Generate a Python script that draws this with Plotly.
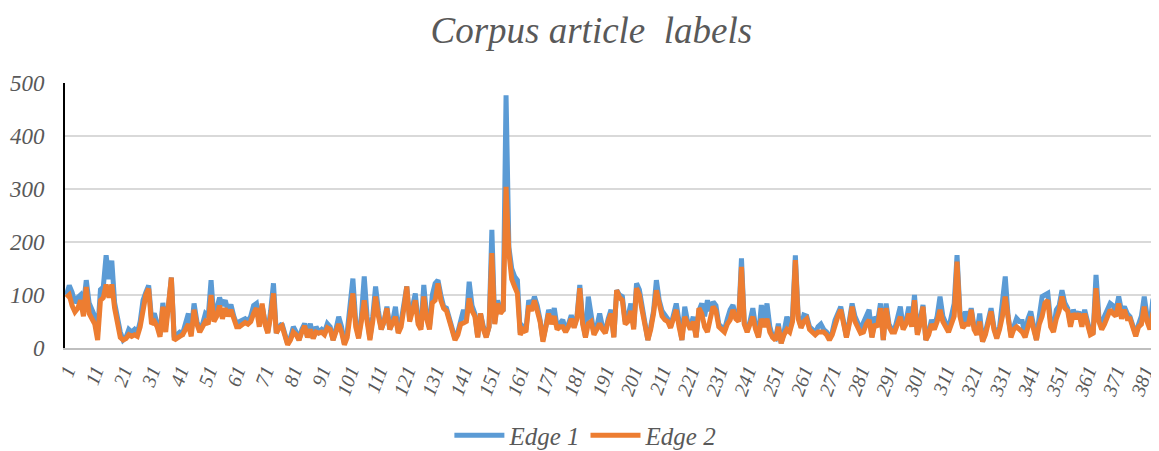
import plotly.graph_objects as go

# Edge 1 values (categories 1..385)
e1 = (
    [100,118,105,85,95,100,80,128,85,70, 60,30,110,115,175,130,165,85,50,30,
     15,20,35,30,35,28,50,90,105,118, 55,65,46,25]
    + [85,45,80,133,20,25,30,28,45,65, 30,84,50,35,45,65,60,128,55,75,
       95,80,90,70,82,60,45,50,53,55, 50,60,80]
    + [84,50,80,50,30,70,122,28,40,46, 25,8,20,40,30,15,35,46,20,46,
       18,40,30,35,30,46,40,15,35,59, 40,8,30,80]
    + [131,50,21,60,135,60,18,60,116,70, 35,50,78,35,50,78,30,50,80,116,
       53,80,103,50,40,119,60,40,100,122, 128,100,78]
    + [75,55,35,18,30,55,72,53,125,80, 65,21,65,40,21,40,223,47,90,70,
       72,477,190,150,135,128,28,40,34,90, 78,97,80,53]
    + [15,40,72,55,75,40,45,53,34,45, 62,40,60,119,50,21,97,60,28,40,
       65,40,30,55,72,21,109,100,97,50, 60,84,40]
    + [122,110,78,40,15,40,70,128,90,70, 62,55,40,60,84,50,15,78,50,40,
       59,21,70,84,60,90,70,87,80,45, 40,34,55,72]
    + [81,60,53,169,46,34,50,75,40,21, 81,50,84,40,21,18,46,9,30,59,
       40,60,175,60,40,62,60,40,35,28, 40,45,35]
    + [30,18,30,53,65,78,50,21,50,84, 60,46,35,48,60,72,21,59,50,84,
       15,84,45,35,35,60,78,40,50,78, 45,100,28]
    + [55,81,15,30,53,40,60,97,60,45, 35,60,84,175,70,40,69,50,75,40,
       30,65,12,30,55,75,40,20,40,80, 135,60,25,40]
    + [56,50,50,25,55,69,40,15,60,97, 100,103,50,35,72,80,109,85,75,46,
       72,60,68,46,72,50,28,30,138,60, 40,60,70,84]
    + [80,70,97,70,78,65,59,40,25,45,60,97,60,40,90,105]
)

# Edge 2 values (categories 1..385)
e2 = (
    [95,100,80,68,75,90,60,115,65,55, 45,15,90,95,120,95,120,75,40,20,
     15,18,25,22,25,22,40,75,100,112, 45,50,40,21]
    + [78,30,75,133,15,20,22,25,35,45, 22,72,45,30,40,50,45,100,50,60,
       80,55,75,60,72,55,40,40,45,48, 45,50,65]
    + [75,40,84,45,28,60,103,28,38,42, 22,6,15,30,25,15,30,42,20,35,
       18,30,28,30,25,38,35,15,30,45, 30,6,20,70]
    + [103,40,18,50,90,50,15,50,97,60, 35,50,75,35,45,59,28,40,75,116,
       50,70,90,45,35,97,55,35,85,90, 122,90,75]
    + [70,50,30,15,25,45,47,50,94,70, 60,20,65,35,20,40,179,45,84,65,
       72,304,180,130,116,103,25,35,30,80, 70,90,70,50]
    + [12,35,65,45,60,35,40,40,30,40, 55,38,55,113,45,20,46,50,25,35,
       46,35,28,50,65,20,109,95,90,45, 50,70,35]
    + [113,100,70,35,15,35,65,109,80,60, 53,50,38,55,72,40,15,59,45,35,
       50,20,75,65,40,30,55,78,70,40, 35,30,45,53]
    + [72,55,50,153,45,30,45,59,35,20, 55,40,55,30,20,15,40,9,25,35,
       30,50,166,55,38,50,55,35,30,25, 30,30,30]
    + [25,15,25,45,60,72,45,20,45,78, 50,40,28,30,45,53,20,45,40,75,
       15,75,40,30,30,45,59,35,45,65, 40,90,25]
    + [45,78,15,25,45,35,50,72,50,40, 30,45,60,163,60,38,45,45,72,35,
       25,50,12,25,45,69,35,18,35,60, 97,50,20,35]
    + [40,35,30,20,45,59,35,15,45,60, 85,90,40,30,55,70,97,75,70,40,
       65,55,65,40,65,45,25,28,113,50, 35,45,60,72]
    + [65,60,84,55,72,55,55,35,22,40,45,78,50,35,65,80]
)

categories = list(range(1, len(e1) + 1))
tick_labels = [str(c) for c in categories[::10]]
series_names = ["Edge 1", "Edge 2"]
title_text = "Corpus article  labels"

FONT = "Liberation Serif, Times New Roman, serif"
GRAY = "#595959"

fig = go.Figure()
fig.add_trace(go.Scatter(x=categories, y=e1, mode="lines", name=series_names[0],
                         line=dict(color="#5B9BD5", width=5)))
fig.add_trace(go.Scatter(x=categories, y=e2, mode="lines", name=series_names[1],
                         line=dict(color="#ED7D31", width=5)))

# the page body adds an 8px margin, so the figure is sized to fit inside it
fig.update_layout(
    width=1151, height=443,
    paper_bgcolor="white", plot_bgcolor="white",
    margin=dict(l=57, r=2, t=75, b=103, autoexpand=False),
    title=dict(text=title_text, xref="paper", x=0.482, xanchor="center",
               yref="container", y=0.95, yanchor="middle", automargin=False,
               font=dict(family=FONT, size=37, color=GRAY, style="italic")),
    showlegend=True,
    legend=dict(orientation="h", x=0.477, xanchor="center", y=-0.33, yanchor="middle",
                font=dict(family=FONT, size=25, color=GRAY, style="italic"),
                itemwidth=50),
    xaxis=dict(range=[0.5, len(e1) + 0.5], tickmode="array",
               tickvals=categories[::10], ticktext=tick_labels,
               tickangle=-70, showgrid=False, zeroline=False, automargin=False,
               showline=True, linecolor="#BFBFBF", linewidth=1.5,
               tickfont=dict(family=FONT, size=20, color=GRAY, style="italic"),
               ticks="", ticklabelstandoff=2),
    yaxis=dict(range=[0, 500], tickvals=[0, 100, 200, 300, 400, 500],
               showgrid=True, gridcolor="#D9D9D9", gridwidth=1.5, automargin=False,
               zeroline=False, showline=True, linecolor="#000000", linewidth=2,
               tickfont=dict(family=FONT, size=23, color=GRAY, style="italic"),
               ticks="", ticklabelstandoff=14),
)

fig.write_html("out.html")
